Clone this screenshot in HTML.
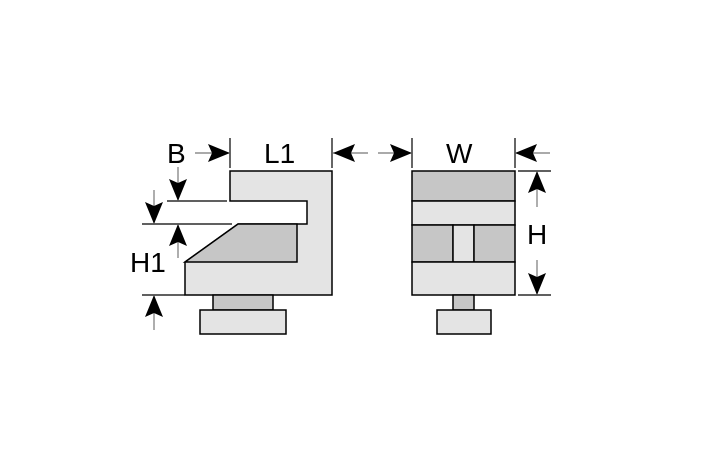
<!DOCTYPE html>
<html><head><meta charset="utf-8"><style>html,body{margin:0;padding:0;background:#fff}svg{display:block}</style></head>
<body>
<svg width="709" height="472" viewBox="0 0 709 472" xmlns="http://www.w3.org/2000/svg">
<defs>
<marker id="a" markerWidth="22" markerHeight="18" refX="22" refY="9" orient="auto" markerUnits="userSpaceOnUse">
<path d="M0,0 L22,9 L0,18 L4,9 Z" fill="#000"/>
</marker>
</defs>
<g stroke="#000" stroke-width="1.5">
<polygon points="230,171 332,171 332,295 185,295 185,262 238,224 307,224 307,201 230,201" fill="#e4e4e4"/>
<polygon points="185,262 238,224 297,224 297,262" fill="#c6c6c6"/>
<rect x="213" y="295" width="60" height="15" fill="#c6c6c6"/>
<rect x="200" y="310" width="86" height="24" fill="#e4e4e4"/>
<rect x="412" y="171" width="103" height="30" fill="#c6c6c6"/>
<rect x="412" y="201" width="103" height="24" fill="#e4e4e4"/>
<rect x="412" y="225" width="41" height="37" fill="#c6c6c6"/>
<rect x="453" y="225" width="21" height="37" fill="#e4e4e4"/>
<rect x="474" y="225" width="41" height="37" fill="#c6c6c6"/>
<rect x="412" y="262" width="103" height="33" fill="#e4e4e4"/>
<rect x="453" y="295" width="21" height="15" fill="#c6c6c6"/>
<rect x="437" y="310" width="54" height="24" fill="#e4e4e4"/>
</g>
<g stroke="#000" stroke-width="1.2" fill="none">
<line x1="230" y1="138" x2="230" y2="168"/>
<line x1="332" y1="138" x2="332" y2="168"/>
<line x1="412" y1="138" x2="412" y2="168"/>
<line x1="515" y1="138" x2="515" y2="168"/>
<line x1="518" y1="171" x2="551" y2="171"/>
<line x1="518" y1="295" x2="551" y2="295"/>
<line x1="167" y1="201" x2="227" y2="201"/>
<line x1="142" y1="224" x2="232" y2="224"/>
<line x1="142" y1="295" x2="185" y2="295"/>
</g>
<g stroke="#777" stroke-width="1.2" marker-end="url(#a)">
<line x1="195" y1="153" x2="230" y2="153"/>
<line x1="368" y1="153" x2="333" y2="153"/>
<line x1="378" y1="153" x2="412" y2="153"/>
<line x1="550" y1="153" x2="515" y2="153"/>
<line x1="537" y1="207" x2="537" y2="171"/>
<line x1="537" y1="260" x2="537" y2="295"/>
<line x1="178" y1="167" x2="178" y2="201"/>
<line x1="154" y1="190" x2="154" y2="224"/>
<line x1="178" y1="258" x2="178" y2="224"/>
<line x1="154" y1="330" x2="154" y2="295"/>
</g>
<g font-family="Liberation Sans, sans-serif" font-size="28" fill="#000">
<text x="167" y="163">B</text>
<text x="264" y="163">L1</text>
<text x="446" y="163">W</text>
<text x="527" y="244">H</text>
<text x="130" y="272">H1</text>
</g>
</svg>
</body></html>
